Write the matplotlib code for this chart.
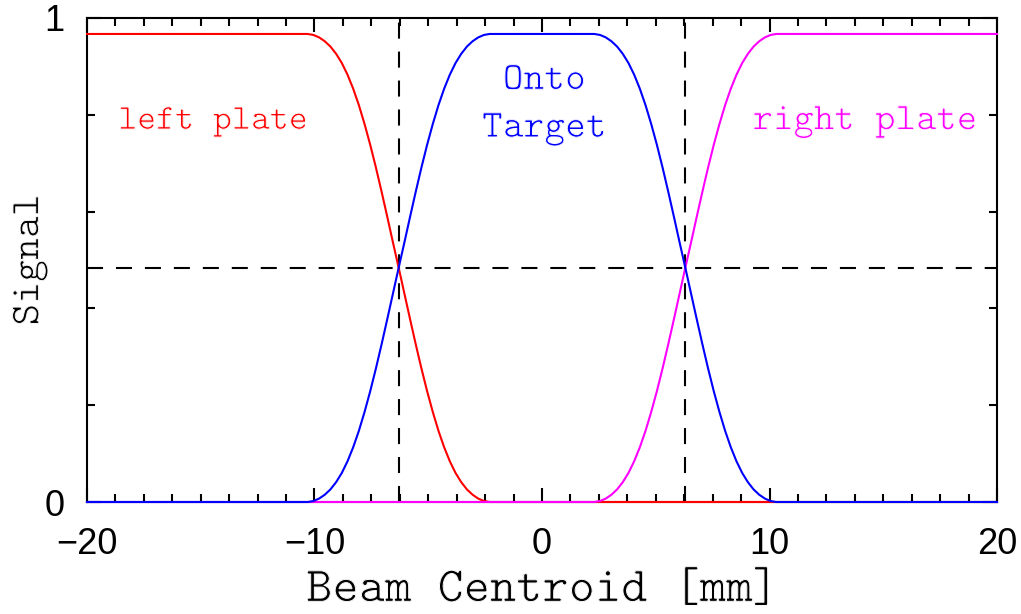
import matplotlib
matplotlib.use('Agg')
import matplotlib.pyplot as plt
import matplotlib.patheffects as pe
from matplotlib.ticker import MultipleLocator

# beam centroid positions [mm] and the signal fraction seen on each electrode
beam_x = [-20.0,
          -10.3, -10.05, -9.8, -9.55, -9.3, -9.05, -8.8, -8.55, -8.3, -8.05, -7.8,
          -7.55, -7.3, -7.05, -6.8, -6.55, -6.3, -6.05, -5.8, -5.55, -5.3, -5.05,
          -4.8, -4.55, -4.3, -4.05, -3.8, -3.55, -3.3, -3.05, -2.8, -2.55, -2.3,
          2.3, 2.55, 2.8, 3.05, 3.3, 3.55, 3.8, 4.05, 4.3, 4.55, 4.8,
          5.05, 5.3, 5.55, 5.8, 6.05, 6.3, 6.55, 6.8, 7.05, 7.3, 7.55,
          7.8, 8.05, 8.3, 8.55, 8.8, 9.05, 9.3, 9.55, 9.8, 10.05, 10.3,
          20.0]

left_plate = [0.967,
              0.967, 0.965, 0.960, 0.952, 0.941, 0.926, 0.907, 0.883, 0.854, 0.820, 0.781,
              0.738, 0.691, 0.641, 0.589, 0.536, 0.484, 0.431, 0.378, 0.326, 0.276, 0.229,
              0.186, 0.147, 0.113, 0.084, 0.060, 0.041, 0.026, 0.015, 0.007, 0.002, 0.000,
              0.000, 0.000, 0.000, 0.000, 0.000, 0.000, 0.000, 0.000, 0.000, 0.000, 0.000,
              0.000, 0.000, 0.000, 0.000, 0.000, 0.000, 0.000, 0.000, 0.000, 0.000, 0.000,
              0.000, 0.000, 0.000, 0.000, 0.000, 0.000, 0.000, 0.000, 0.000, 0.000, 0.000,
              0.000]

onto_target = [0.000,
               0.000, 0.002, 0.007, 0.015, 0.026, 0.041, 0.060, 0.084, 0.113, 0.147, 0.186,
               0.229, 0.276, 0.326, 0.378, 0.431, 0.484, 0.536, 0.589, 0.641, 0.691, 0.738,
               0.781, 0.820, 0.854, 0.883, 0.907, 0.926, 0.941, 0.952, 0.960, 0.965, 0.967,
               0.967, 0.965, 0.960, 0.952, 0.941, 0.926, 0.907, 0.883, 0.854, 0.820, 0.781,
               0.738, 0.691, 0.641, 0.589, 0.536, 0.484, 0.431, 0.378, 0.326, 0.276, 0.229,
               0.186, 0.147, 0.113, 0.084, 0.060, 0.041, 0.026, 0.015, 0.007, 0.002, 0.000,
               0.000]

right_plate = [0.000,
               0.000, 0.000, 0.000, 0.000, 0.000, 0.000, 0.000, 0.000, 0.000, 0.000, 0.000,
               0.000, 0.000, 0.000, 0.000, 0.000, 0.000, 0.000, 0.000, 0.000, 0.000, 0.000,
               0.000, 0.000, 0.000, 0.000, 0.000, 0.000, 0.000, 0.000, 0.000, 0.000, 0.000,
               0.000, 0.002, 0.007, 0.015, 0.026, 0.041, 0.060, 0.084, 0.113, 0.147, 0.186,
               0.229, 0.276, 0.326, 0.378, 0.431, 0.484, 0.536, 0.589, 0.641, 0.691, 0.738,
               0.781, 0.820, 0.854, 0.883, 0.907, 0.926, 0.941, 0.952, 0.960, 0.965, 0.967,
               0.967]

half_signal = 0.4835
crossings = [-6.3, 6.3]

label_font = 'cmtt10'
tick_font = 'Liberation Sans'
# shave the heavy typewriter strokes a little
thin = [pe.Normal(), pe.Stroke(linewidth=0.7, foreground='white')]

fig = plt.figure(figsize=(10.21, 6.14), dpi=100)
ax = fig.add_axes([0.0852, 0.1824, 0.8913, 0.7883])

ax.plot(beam_x, left_plate, color='#ff0000', lw=1.5, zorder=3, clip_on=False)
ax.plot(beam_x, right_plate, color='#ff00ff', lw=1.5, zorder=3, clip_on=False)
ax.plot(beam_x, onto_target, color='#0000ff', lw=1.5, zorder=3, clip_on=False)

ax.axhline(half_signal, color='black', lw=1.5, dashes=(7.7, 6.2), zorder=2)
for xc in crossings:
    ax.axvline(xc, color='black', lw=1.5, dashes=(7.7, 6.2), zorder=2)

ax.set_xlim(-20, 20)
ax.set_ylim(0, 1)

ax.xaxis.set_major_locator(MultipleLocator(10))
ax.xaxis.set_minor_locator(MultipleLocator(1.25))
ax.set_yticks([0, 1])
ax.yaxis.set_minor_locator(MultipleLocator(0.2))

ax.tick_params(which='both', direction='in', top=True, right=True, width=1.5)
ax.tick_params(which='major', length=10)
ax.tick_params(which='minor', length=6)
ax.tick_params(axis='x', which='major', pad=18)
ax.tick_params(axis='y', which='major', pad=16)
for lbl in ax.get_xticklabels() + ax.get_yticklabels():
    lbl.set_fontfamily(tick_font)
    lbl.set_fontsize(26)

for s in ax.spines.values():
    s.set_linewidth(1.5)

ax.set_xlabel('Beam Centroid [mm]', fontfamily=label_font, fontsize=36, labelpad=6,
              path_effects=thin)
ax.set_ylabel('Signal', fontfamily=label_font, fontsize=30, labelpad=-2,
              path_effects=thin)

ax.text(-14.46, 0.785, 'left plate', color='#ff0000', fontfamily=label_font,
        fontsize=26, ha='center', va='center', path_effects=thin)
ax.text(0.1, 0.82, 'Onto\nTarget', color='#0000ff', fontfamily=label_font,
        fontsize=28.5, ha='center', va='center', linespacing=1.55,
        multialignment='center', path_effects=thin)
ax.text(14.2, 0.785, 'right plate', color='#ff00ff', fontfamily=label_font,
        fontsize=28, ha='center', va='center', path_effects=thin)

fig.savefig('out.png', dpi=100)
